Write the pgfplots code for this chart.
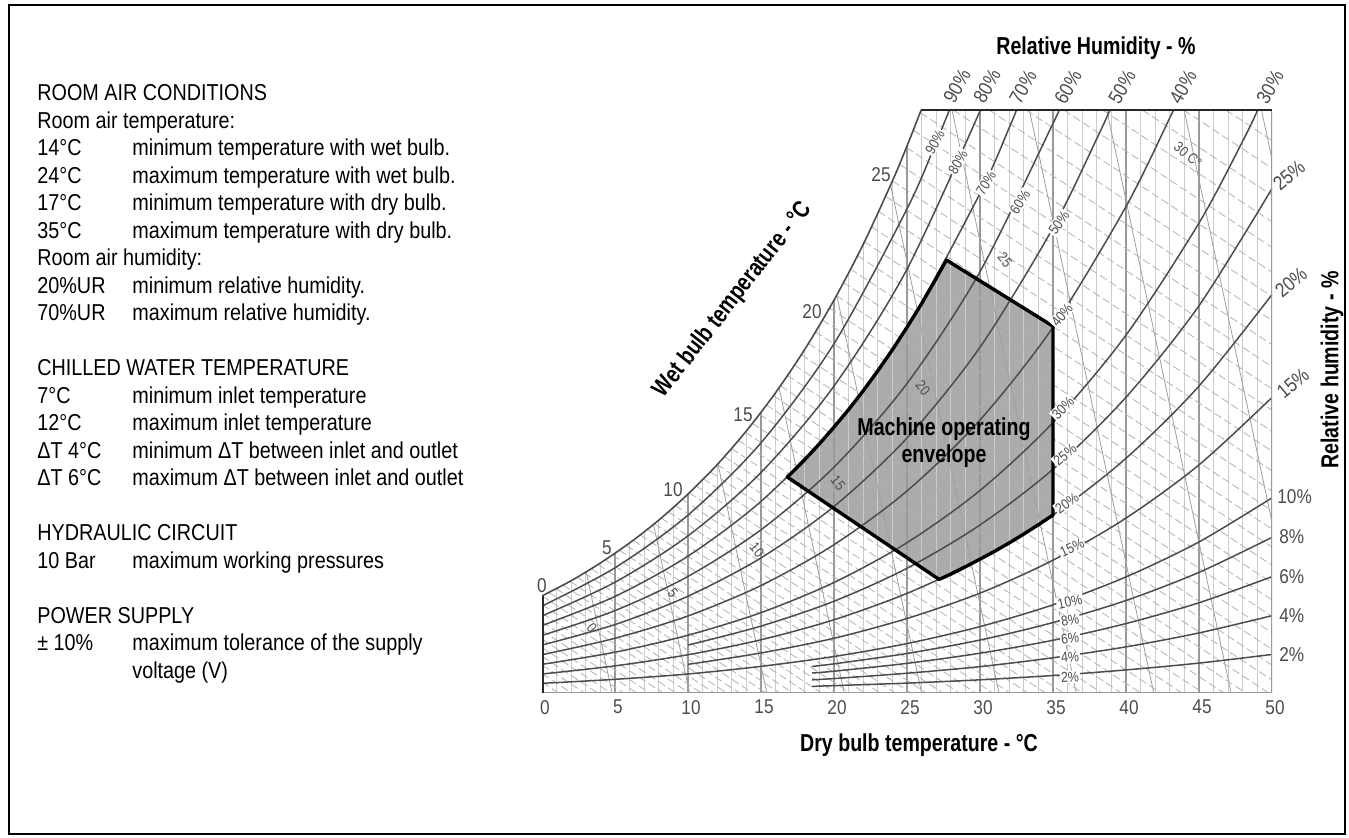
\documentclass[border=0pt]{standalone}
\usepackage{fontspec}
\setmainfont{Liberation Sans}[FakeStretch=0.86]
\newfontfamily\narrowfont{Liberation Sans}[FakeStretch=0.8]
\usepackage{pgfplots}
\pgfplotsset{compat=1.18}
\definecolor{labelgray}{gray}{0.30}
\definecolor{rhgray}{gray}{0.30}
\definecolor{gridlight}{gray}{0.80}
\definecolor{gridmid}{gray}{0.60}
\definecolor{wbgray}{gray}{0.70}
\definecolor{vgray}{gray}{0.62}
\definecolor{envfill}{gray}{0.67}
\newcommand\txtfont{\fontsize{11.5}{13.75}\selectfont}
\newcommand\boldlab{\narrowfont\bfseries\fontsize{12.25}{13.5}\selectfont}
\newcommand\numfont{\fontsize{10}{12}\selectfont}
\newcommand\smallfont{\fontsize{7.2}{8.5}\selectfont}
\begin{document}
\begin{tikzpicture}
\useasboundingbox (0,0) rectangle (674.5pt,-419pt);
\draw[line width=1.2pt] (4.5pt,-2.5pt) rectangle (672.5pt,-417pt);
\begin{axis}[
  at={(271pt,-346.5pt)}, anchor=south west,
  scale only axis, width=365pt, height=291.5pt,
  xmin=0, xmax=50, ymin=0, ymax=23,
  axis line style={draw=none},
  xtick={0,5,...,50}, ytick=\empty,
  major tick length=0pt,
  xticklabel style={font=\numfont, text=labelgray, xshift=1.5pt},
  /pgf/number format/assume math mode=true,
  unbounded coords=jump,
]
% envelope fill
\addplot[fill=envfill, draw=none, mark=none] coordinates {
 (16.8,8.52) (17,8.63) (18,9.21) (19,9.83) (20,10.49) (21,11.18) (22,11.92) (23,12.71) (24,13.54) (25,14.43) (26,15.36) (27,16.36) (27.7,17.08)
 (35,14.47) (35,7.02) (34,6.64) (33,6.27) (32,5.92) (31,5.59) (30,5.28) (29,4.98) (28,4.69) (27.2,4.48)} -- cycle;
% dry bulb vertical lines (1 C)
\addplot[ycomb, draw=gridlight, line width=0.45pt, mark=none] coordinates {
 (1,4.13) (2,4.43) (3,4.78) (4,5.13) (6,5.92) (7,6.37) (8,6.82) (9,7.335)
 (11,8.43) (12,9.01) (13,9.675) (14,10.34) (16,11.85) (17,12.705) (18,13.56) (19,14.53)
 (21,16.6) (22,17.70) (23,18.95) (24,20.20) (26,23) (27,23) (28,23) (29,23)
 (31,23) (32,23) (33,23) (34,23) (36,23) (37,23) (38,23) (39,23)
 (41,23) (42,23) (43,23) (44,23) (46,23) (47,23) (48,23) (49,23)};
\addplot[ycomb, draw=gridmid, line width=0.55pt, mark=none] coordinates {
 (5,5.525) (10,7.85) (15,11.095) (20,15.50) (25,21.58) (30,23) (35,23) (40,23) (45,23)};
% steep lines
\addplot[draw=vgray, line width=0.4pt, mark=none] coordinates {
 (3.02,4.80) (4.8,0) (nan,nan)
 (7.64,6.65) (10.1,0) (nan,nan)
 (12.05,9.04) (15.4,0) (nan,nan)
 (16.24,12.04) (20.7,0) (nan,nan)
 (20.21,15.63) (26.0,0) (nan,nan)
 (23.88,20.03) (31.3,0) (nan,nan)
 (28.08,23) (36.6,0) (nan,nan)
 (33.38,23) (41.9,0) (nan,nan)
 (38.68,23) (47.2,0) (nan,nan)
 (43.98,23) (50,6.75) (nan,nan)
 (49.28,23) (50,21.06)};
% wet bulb dashed lines (every 0.5 C)
\addplot[draw=wbgray, line width=0.4pt, dash pattern=on 4pt off 1.8pt, mark=none] coordinates {
 (0,0.43) (1.13,0) (nan,nan)
 (0,0.77) (2.03,0) (nan,nan)
 (0,1.11) (2.92,0) (nan,nan)
 (0,1.45) (3.82,0) (nan,nan)
 (0,1.79) (4.71,0) (nan,nan)
 (0,2.13) (5.61,0) (nan,nan)
 (0,2.47) (6.50,0) (nan,nan)
 (0,2.81) (7.39,0) (nan,nan)
 (0,3.15) (8.29,0) (nan,nan)
 (0,3.49) (9.18,0) (nan,nan)
 (0,3.83) (10.08,0) (nan,nan)
 (0.48,3.97) (10.93,0) (nan,nan)
 (0.96,4.12) (11.80,0) (nan,nan)
 (1.44,4.26) (12.65,0) (nan,nan)
 (1.92,4.41) (13.53,0) (nan,nan)
 (2.40,4.57) (14.43,0) (nan,nan)
 (2.88,4.74) (15.35,0) (nan,nan)
 (3.36,4.91) (16.28,0) (nan,nan)
 (3.84,5.07) (17.18,0) (nan,nan)
 (4.32,5.26) (18.16,0) (nan,nan)
 (4.80,5.45) (19.14,0) (nan,nan)
 (5.28,5.64) (20.12,0) (nan,nan)
 (5.76,5.83) (21.10,0) (nan,nan)
 (6.24,6.03) (22.11,0) (nan,nan)
 (6.72,6.24) (23.14,0) (nan,nan)
 (7.20,6.46) (24.20,0) (nan,nan)
 (7.68,6.68) (25.26,0) (nan,nan)
 (8.16,6.90) (26.32,0) (nan,nan)
 (8.64,7.15) (27.46,0) (nan,nan)
 (9.12,7.40) (28.59,0) (nan,nan)
 (9.60,7.64) (29.71,0) (nan,nan)
 (10.08,7.90) (30.87,0) (nan,nan)
 (10.56,8.17) (32.06,0) (nan,nan)
 (11.04,8.45) (33.28,0) (nan,nan)
 (11.52,8.73) (34.49,0) (nan,nan)
 (12.00,9.01) (35.71,0) (nan,nan)
 (12.48,9.33) (37.03,0) (nan,nan)
 (12.96,9.65) (38.35,0) (nan,nan)
 (13.44,9.97) (39.68,0) (nan,nan)
 (13.92,10.29) (41.00,0) (nan,nan)
 (14.40,10.64) (42.40,0) (nan,nan)
 (14.88,11.00) (43.83,0) (nan,nan)
 (15.36,11.37) (45.28,0) (nan,nan)
 (15.84,11.73) (46.71,0) (nan,nan)
 (16.32,12.12) (48.21,0) (nan,nan)
 (16.80,12.53) (49.77,0) (nan,nan)
 (17.28,12.94) (50,0.51) (nan,nan)
 (17.76,13.35) (50,1.10) (nan,nan)
 (18.24,13.79) (50,1.72) (nan,nan)
 (18.72,14.26) (50,2.37) (nan,nan)
 (19.20,14.72) (50,3.02) (nan,nan)
 (19.68,15.19) (50,3.67) (nan,nan)
 (20.16,15.68) (50,4.34) (nan,nan)
 (20.64,16.20) (50,5.04) (nan,nan)
 (21.12,16.73) (50,5.76) (nan,nan)
 (21.60,17.26) (50,6.47) (nan,nan)
 (22.08,17.80) (50,7.19) (nan,nan)
 (22.56,18.40) (50,7.97) (nan,nan)
 (23.04,19.00) (50,8.76) (nan,nan)
 (23.52,19.60) (50,9.54) (nan,nan)
 (24.00,20.20) (50,10.32) (nan,nan)
 (24.48,20.86) (50,11.16) (nan,nan)
 (24.96,21.52) (50,12.00) (nan,nan)
 (25.44,22.20) (50,12.87) (nan,nan)
 (25.92,22.89) (50,13.74) (nan,nan)
 (28.16,23) (50,14.70) (nan,nan)
 (30.62,23) (50,15.64) (nan,nan)
 (33.15,23) (50,16.60) (nan,nan)
 (35.73,23) (50,17.58) (nan,nan)
 (38.40,23) (50,18.59) (nan,nan)
 (41.12,23) (50,19.63) (nan,nan)
 (43.94,23) (50,20.70) (nan,nan)
 (46.84,23) (50,21.80)};
% relative humidity curves
\pgfplotsset{rh/.style={draw=rhgray, line width=0.75pt, smooth, mark=none}}
\addplot[rh] coordinates {(0,3.43) (5,4.94) (10,7.02) (15,9.87) (20,13.78) (25,19.10) (27,21.73) (27.9,23.0)};
\addplot[rh] coordinates {(0,3.04) (5,4.37) (10,6.20) (15,8.70) (20,12.11) (25,16.72) (30.03,23.0)};
\addplot[rh] coordinates {(0,2.66) (5,3.81) (10,5.40) (15,7.56) (20,10.49) (25,14.43) (30,19.71) (32,22.30) (32.5,23.0)};
\addplot[rh] coordinates {(0,2.27) (5,3.25) (10,4.60) (15,6.44) (20,8.91) (25,12.21) (30,16.62) (35,22.47) (35.4,23.0)};
\addplot[rh] coordinates {(0,1.89) (5,2.70) (10,3.82) (15,5.33) (20,7.36) (25,10.06) (30,13.64) (35,18.35) (38,21.87) (38.9,23.0)};
\addplot[rh] coordinates {(0,1.51) (5,2.16) (10,3.04) (15,4.24) (20,5.85) (25,7.97) (30,10.77) (35,14.43) (40,19.19) (43,22.69) (43.25,23.0)};
\addplot[rh] coordinates {(0,1.13) (5,1.61) (10,2.28) (15,3.17) (20,4.36) (25,5.93) (30,7.99) (35,10.67) (40,14.12) (45,18.54) (48,21.78) (49.02,23.0)};
\addplot[rh] coordinates {(10,1.89) (15,2.64) (20,3.62) (25,4.92) (30,6.63) (35,8.83) (40,11.67) (45,15.28) (50,19.90)};
\addplot[rh] coordinates {(0,0.75) (5,1.07) (10,1.51) (15,2.10) (20,2.89) (25,3.93) (30,5.28) (35,7.02) (40,9.26) (45,12.11) (50,15.72)};
\addplot[rh] coordinates {(10,1.13) (15,1.58) (20,2.16) (25,2.94) (30,3.94) (35,5.24) (40,6.90) (45,9.00) (50,11.66)};
\addplot[rh] coordinates {(0,0.38) (5,0.54) (10,0.75) (15,1.05) (20,1.44) (25,1.95) (30,2.62) (35,3.48) (40,4.58) (45,5.96) (50,7.70)};
\addplot[rh] coordinates {(18.5,1.05) (20,1.15) (25,1.56) (30,2.09) (35,2.78) (40,3.65) (45,4.76) (50,6.14)};
\addplot[rh] coordinates {(18.5,0.79) (20,0.86) (25,1.17) (30,1.57) (35,2.08) (40,2.74) (45,3.56) (50,4.59)};
\addplot[rh] coordinates {(18.5,0.52) (20,0.57) (25,0.78) (30,1.04) (35,1.39) (40,1.82) (45,2.37) (50,3.05)};
\addplot[rh] coordinates {(18.5,0.26) (20,0.29) (25,0.39) (30,0.52) (35,0.69) (40,0.91) (45,1.18) (50,1.52)};
% saturation curve
\addplot[draw=rhgray, line width=0.8pt, smooth, mark=none] coordinates {
 (0,3.83) (2,4.43) (4,5.13) (6,5.92) (8,6.82) (10,7.85) (12,9.01) (14,10.34) (16,11.85) (18,13.56) (20,15.50) (22,17.70) (24,20.20) (25,21.58) (25.97,23.0)};
% borders
\addplot[draw=gridmid, line width=0.6pt, mark=none] coordinates {(0,0) (50,0) (50,23)};
\addplot[draw=black!85, line width=1.5pt, mark=none] coordinates {(25.97,23) (50,23)};
\addplot[draw=black!85, line width=1.5pt, mark=none] coordinates {(0,0) (0,3.83)};
% envelope border
\addplot[draw=black, line width=1.7pt, mark=none, line join=round] coordinates {
 (16.8,8.52) (17,8.63) (18,9.21) (19,9.83) (20,10.49) (21,11.18) (22,11.92) (23,12.71) (24,13.54) (25,14.43) (26,15.36) (27,16.36) (27.7,17.08)
 (35,14.47) (35,7.02) (34,6.64) (33,6.27) (32,5.92) (31,5.59) (30,5.28) (29,4.98) (28,4.69) (27.2,4.48)} -- cycle;
\end{axis}
\begin{scope}[x=0.5pt,y=-0.5pt]
% left text
\begin{scope}[every node/.style={anchor=base west, inner sep=0pt, font=\txtfont}]
\node at (37,101) {ROOM AIR CONDITIONS};
\node at (37,128.5) {Room air temperature:};
\node at (37,156) {14°C}; \node at (132,156) {minimum temperature with wet bulb.};
\node at (37,183.5) {24°C}; \node at (132,183.5) {maximum temperature with wet bulb.};
\node at (37,211) {17°C}; \node at (132,211) {minimum temperature with dry bulb.};
\node at (37,238.5) {35°C}; \node at (132,238.5) {maximum temperature with dry bulb.};
\node at (37,266) {Room air humidity:};
\node at (37,293.5) {20\%UR}; \node at (132,293.5) {minimum relative humidity.};
\node at (37,321) {70\%UR}; \node at (132,321) {maximum relative humidity.};
\node at (37,376) {CHILLED WATER TEMPERATURE};
\node at (37,403.5) {7°C}; \node at (132,403.5) {minimum inlet temperature};
\node at (37,431) {12°C}; \node at (132,431) {maximum inlet temperature};
\node at (37,458.5) {ΔT 4°C}; \node at (132,458.5) {minimum ΔT between inlet and outlet};
\node at (37,486) {ΔT 6°C}; \node at (132,486) {maximum ΔT between inlet and outlet};
\node at (37,541) {HYDRAULIC CIRCUIT};
\node at (37,568.5) {10 Bar}; \node at (132,568.5) {maximum working pressures};
\node at (37,623.5) {POWER SUPPLY};
\node at (37,651) {± 10\%}; \node at (132,651) {maximum tolerance of the supply};
\node at (132,678.5) {voltage (V)};
\end{scope}
% bold axis titles
\node[font=\boldlab, rotate=52] at (733,300) {Wet bulb temperature - °C};
\node[font=\boldlab] at (919,745) {Dry bulb temperature - °C};
\node[font=\boldlab] at (1096,48) {Relative Humidity - \%};
\node[font=\boldlab, rotate=90] at (1332,370) {Relative humidity - \%};
\node[font=\boldlab, align=center] at (944,443) {Machine operating\\envelope};
% wet bulb labels on saturation curve
\begin{scope}[every node/.style={font=\numfont, text=labelgray, inner sep=0pt}]
\node at (542,586) {0};
\node at (607,548) {5};
\node at (673,490) {10};
\node at (743,415) {15};
\node at (812,312) {20};
\node at (881,175) {25};
% top RH labels
\node[rotate=60] at (957,86) {90\%};
\node[rotate=60] at (987,86) {80\%};
\node[rotate=60] at (1023,87) {70\%};
\node[rotate=60] at (1068,87) {60\%};
\node[rotate=60] at (1122,87) {50\%};
\node[rotate=60] at (1183,87) {40\%};
\node[rotate=60] at (1270,87) {30\%};
% right RH labels
\node[rotate=40] at (1289,175) {25\%};
\node[rotate=40] at (1291,282) {20\%};
\node[rotate=40] at (1293,383) {15\%};
\node[anchor=west] at (1277,497) {10\%};
\node[anchor=west] at (1279,537) {8\%};
\node[anchor=west] at (1279,577) {6\%};
\node[anchor=west] at (1279,616) {4\%};
\node[anchor=west] at (1279,655) {2\%};
\end{scope}
% small labels on RH curves
\begin{scope}[every node/.style={font=\smallfont, text=labelgray, fill=white, inner sep=0.6pt}]
\node[rotate=60] at (935,142) {90\%};
\node[rotate=60] at (958,162) {80\%};
\node[rotate=58] at (986,183) {70\%};
\node[rotate=57] at (1020,202) {60\%};
\node[rotate=55] at (1059,223) {50\%};
\node[rotate=50] at (1062,315) {40\%};
\node[rotate=45] at (1063,408) {30\%};
\node[rotate=40] at (1065,455) {25\%};
\node[rotate=35] at (1067,503) {20\%};
\node[rotate=25] at (1072,548) {15\%};
\node[rotate=12] at (1070,602) {10\%};
\node[rotate=10] at (1070,620) {8\%};
\node[rotate=8] at (1070,638) {6\%};
\node[rotate=5] at (1070,657) {4\%};
\node[rotate=3] at (1070,677) {2\%};
\end{scope}
\begin{scope}[every node/.style={font=\smallfont, text=labelgray, inner sep=0pt}]
\node[rotate=-50] at (592,628) {0};
\node[rotate=-50] at (673,593) {5};
\node[rotate=-50] at (757,550) {10};
\node[rotate=-50] at (838,483) {15};
\node[rotate=-50] at (923,388) {20};
\node[rotate=-50] at (1005,260) {25};
\node[rotate=-40] at (1188,155) {30 C°};
\end{scope}
\end{scope}
\end{tikzpicture}
\end{document}
